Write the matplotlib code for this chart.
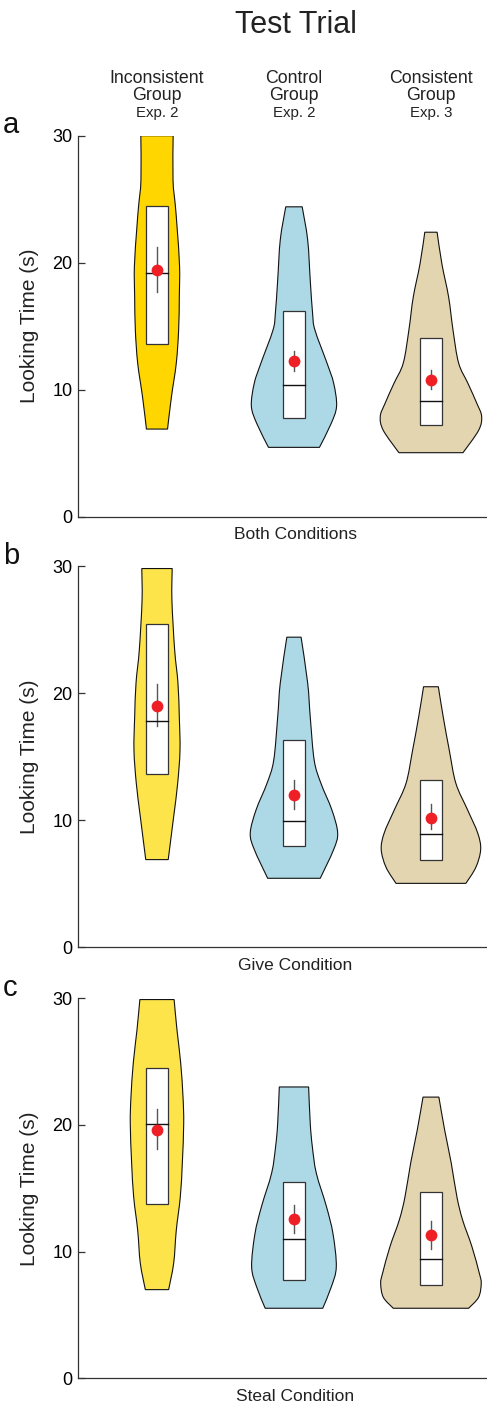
import matplotlib
matplotlib.use('Agg')
import matplotlib.pyplot as plt
from matplotlib.path import Path
from matplotlib.patches import PathPatch, Rectangle
import matplotlib.transforms as mtransforms

plt.rcParams['font.family'] = ['Liberation Sans', 'DejaVu Sans']

# ---------------- data ----------------
groups = ['Inconsistent', 'Control', 'Consistent']
group_word = ['Group', 'Group', 'Group']
exp_labels = ['Exp. 2', 'Exp. 2', 'Exp. 3']
conditions = ['Both Conditions', 'Give Condition', 'Steal Condition']
panel_letters = ['a', 'b', 'c']
yticks = [0, 10, 20, 30]
positions = [1, 2, 3]

# violin outlines: levels (s) and half-widths (x units)
a_inc_y = [6.9, 9.4, 12.1, 14.7, 17.3, 19.7, 22.6, 24.5, 26.5, 30.0]
a_inc_w = [0.077, 0.105, 0.141, 0.158, 0.163, 0.165, 0.148, 0.134, 0.117, 0.118]
a_con_y = [5.46, 7.3, 8.7, 10.5, 12.1, 14.7, 16.0, 18.6, 21.8, 24.4]
a_con_w = [0.186, 0.270, 0.311, 0.290, 0.241, 0.153, 0.136, 0.119, 0.100, 0.060]
a_cns_y = [5.04, 6.8, 7.9, 8.9, 10.5, 12.1, 14.7, 17.3, 19.9, 22.4]
a_cns_w = [0.234, 0.348, 0.370, 0.336, 0.270, 0.202, 0.161, 0.129, 0.080, 0.045]

b_inc_y = [6.9, 10.3, 12.9, 15.5, 18.1, 20.8, 23.4, 27.3, 29.8]
b_inc_w = [0.082, 0.122, 0.151, 0.168, 0.163, 0.153, 0.129, 0.109, 0.111]
b_con_y = [5.43, 7.7, 9.0, 10.8, 12.9, 14.7, 18.1, 20.8, 24.4]
b_con_w = [0.192, 0.290, 0.319, 0.277, 0.197, 0.148, 0.119, 0.100, 0.052]
b_cns_y = [5.03, 6.3, 7.7, 9.0, 10.8, 12.9, 15.5, 18.1, 20.5]
b_cns_w = [0.255, 0.328, 0.363, 0.341, 0.268, 0.182, 0.134, 0.090, 0.054]

c_inc_y = [7.0, 9.1, 11.7, 14.3, 17.0, 20.1, 22.2, 24.9, 27.5, 29.9]
c_inc_w = [0.085, 0.122, 0.141, 0.170, 0.185, 0.195, 0.190, 0.173, 0.146, 0.125]
c_con_y = [5.53, 7.2, 8.8, 11.4, 13.6, 16.2, 18.3, 20.1, 23.0]
c_con_w = [0.210, 0.272, 0.309, 0.285, 0.236, 0.163, 0.134, 0.119, 0.107]
c_cns_y = [5.53, 6.4, 7.5, 8.3, 10.4, 12.5, 14.3, 17.0, 19.6, 22.2]
c_cns_w = [0.275, 0.348, 0.367, 0.353, 0.299, 0.231, 0.190, 0.148, 0.100, 0.058]

# box / summary statistics (Inconsistent, Control, Consistent)
a_q1 = [13.6, 7.8, 7.2];   a_q3 = [24.5, 16.2, 14.1];  a_med = [19.2, 10.34, 9.08]
a_mean = [19.4, 12.26, 10.79]; a_lo = [17.7, 11.44, 10.08]; a_hi = [21.2, 13.07, 11.55]
b_q1 = [13.6, 7.97, 6.9];  b_q3 = [25.4, 16.3, 13.2];  b_med = [17.8, 9.94, 8.9]
b_mean = [19.0, 12.0, 10.2];   b_lo = [17.4, 10.86, 9.28]; b_hi = [20.7, 13.2, 11.25]
c_q1 = [13.8, 7.74, 7.39]; c_q3 = [24.5, 15.5, 14.7];  c_med = [20.1, 11.0, 9.39]
c_mean = [19.6, 12.6, 11.3];   c_lo = [18.1, 11.45, 10.2]; c_hi = [21.3, 13.7, 12.4]

panels = [
    dict(viol=[(a_inc_y, a_inc_w), (a_con_y, a_con_w), (a_cns_y, a_cns_w)],
         q1=a_q1, q3=a_q3, med=a_med, mean=a_mean, lo=a_lo, hi=a_hi,
         colors=['#FFD600', '#ADD8E6', '#E3D5AF']),
    dict(viol=[(b_inc_y, b_inc_w), (b_con_y, b_con_w), (b_cns_y, b_cns_w)],
         q1=b_q1, q3=b_q3, med=b_med, mean=b_mean, lo=b_lo, hi=b_hi,
         colors=['#FDE44B', '#ADD8E6', '#E3D5AF']),
    dict(viol=[(c_inc_y, c_inc_w), (c_con_y, c_con_w), (c_cns_y, c_cns_w)],
         q1=c_q1, q3=c_q3, med=c_med, mean=c_mean, lo=c_lo, hi=c_hi,
         colors=['#FDE44B', '#ADD8E6', '#E3D5AF']),
]

# ---------------- helpers ----------------
def smooth_side(pts):
    """Catmull-Rom through pts -> bezier vertices/codes (excluding first MOVETO)."""
    verts, codes = [], []
    n = len(pts)
    for i in range(n - 1):
        p0 = pts[i - 1] if i > 0 else pts[i]
        p1 = pts[i]
        p2 = pts[i + 1]
        p3 = pts[i + 2] if i + 2 < n else pts[i + 1]
        c1 = (p1[0] + (p2[0] - p0[0]) / 6.0, p1[1] + (p2[1] - p0[1]) / 6.0)
        c2 = (p2[0] - (p3[0] - p1[0]) / 6.0, p2[1] - (p3[1] - p1[1]) / 6.0)
        verts += [c1, c2, p2]
        codes += [Path.CURVE4] * 3
    return verts, codes


def violin(ax, pos, ys, ws, color):
    right = [(pos + w, y) for y, w in zip(ys, ws)]
    left = [(pos - w, y) for y, w in zip(ys[::-1], ws[::-1])]
    verts = [right[0]]
    codes = [Path.MOVETO]
    v, c = smooth_side(right)
    verts += v; codes += c
    verts.append(left[0]); codes.append(Path.LINETO)
    v, c = smooth_side(left)
    verts += v; codes += c
    verts.append(right[0]); codes.append(Path.CLOSEPOLY)
    ax.add_patch(PathPatch(Path(verts, codes), facecolor=color,
                           edgecolor='#111111', lw=0.8, zorder=2))


# ---------------- figure ----------------
W, H = 487, 1405
fig = plt.figure(figsize=(W / 100, H / 100), dpi=100)

ax_left_px, ax_right_px = 78, 513
tops = [135.7, 566.0, 998.3]
bottoms = [516.7, 947.3, 1378.3]
box_hw = 0.083

axes = []
for k, p in enumerate(panels):
    ax = fig.add_axes([ax_left_px / W, 1 - bottoms[k] / H,
                       (ax_right_px - ax_left_px) / W, (bottoms[k] - tops[k]) / H])
    axes.append(ax)
    ax.set_xlim(0.4234, 3.599)
    ax.set_ylim(0, 30)
    for s in ['top', 'right']:
        ax.spines[s].set_visible(False)
    for s in ['left', 'bottom']:
        ax.spines[s].set_color('#333333')
        ax.spines[s].set_linewidth(0.9)
    ax.set_xticks([])
    ax.set_yticks(yticks)
    ax.set_yticklabels([str(t) for t in yticks])
    ax.tick_params(axis='y', direction='in', length=5, width=0.9, color='#333333',
                   labelsize=13, pad=4)

    for i, pos in enumerate(positions):
        ys, ws = p['viol'][i]
        violin(ax, pos, ys, ws, p['colors'][i])
        ax.add_patch(Rectangle((pos - box_hw, p['q1'][i]), 2 * box_hw,
                               p['q3'][i] - p['q1'][i], facecolor='white',
                               edgecolor='#333333', lw=0.9, zorder=3))
        ax.plot([pos, pos], [p['lo'][i], p['hi'][i]], color='#555555', lw=1.0, zorder=4)
        ax.plot([pos - box_hw, pos + box_hw], [p['med'][i]] * 2, color='#111111',
                lw=1.0, zorder=4)
        ax.plot([pos], [p['mean'][i]], 'o', color='#EE2026', ms=8.5, mew=0, zorder=5)

    # condition label
    ax.text(0.5, -22.7 / (bottoms[k] - tops[k]), conditions[k], transform=ax.transAxes,
            ha='center', va='baseline', fontsize=12.5, color='#222222')
    # y label
    fig.text(29.3 / W, 1 - ((tops[k] + bottoms[k]) / 2) / H, 'Looking Time (s)',
             rotation=90, ha='center', va='center', fontsize=15, color='#222222')
    # panel letter
    fig.text(3 / W, 1 - (tops[k] - 2.5) / H, panel_letters[k], ha='left',
             va='baseline', fontsize=21, color='#111111')

# title
fig.text(295.5 / W, 1 - 33.3 / H, 'Test Trial', ha='center', va='baseline',
         fontsize=22, color='#222222')

# group headers
trans = mtransforms.blended_transform_factory(axes[0].transData, fig.transFigure)
for i, pos in enumerate(positions):
    axes[0].text(pos, 1 - 83.3 / H, groups[i], transform=trans, ha='center',
                 va='baseline', fontsize=12.8, color='#222222')
    axes[0].text(pos, 1 - 100.0 / H, group_word[i], transform=trans, ha='center',
                 va='baseline', fontsize=12.8, color='#222222')
    axes[0].text(pos, 1 - 116.7 / H, exp_labels[i], transform=trans, ha='center',
                 va='baseline', fontsize=10.8, color='#222222')

fig.savefig('out.png', dpi=100)
